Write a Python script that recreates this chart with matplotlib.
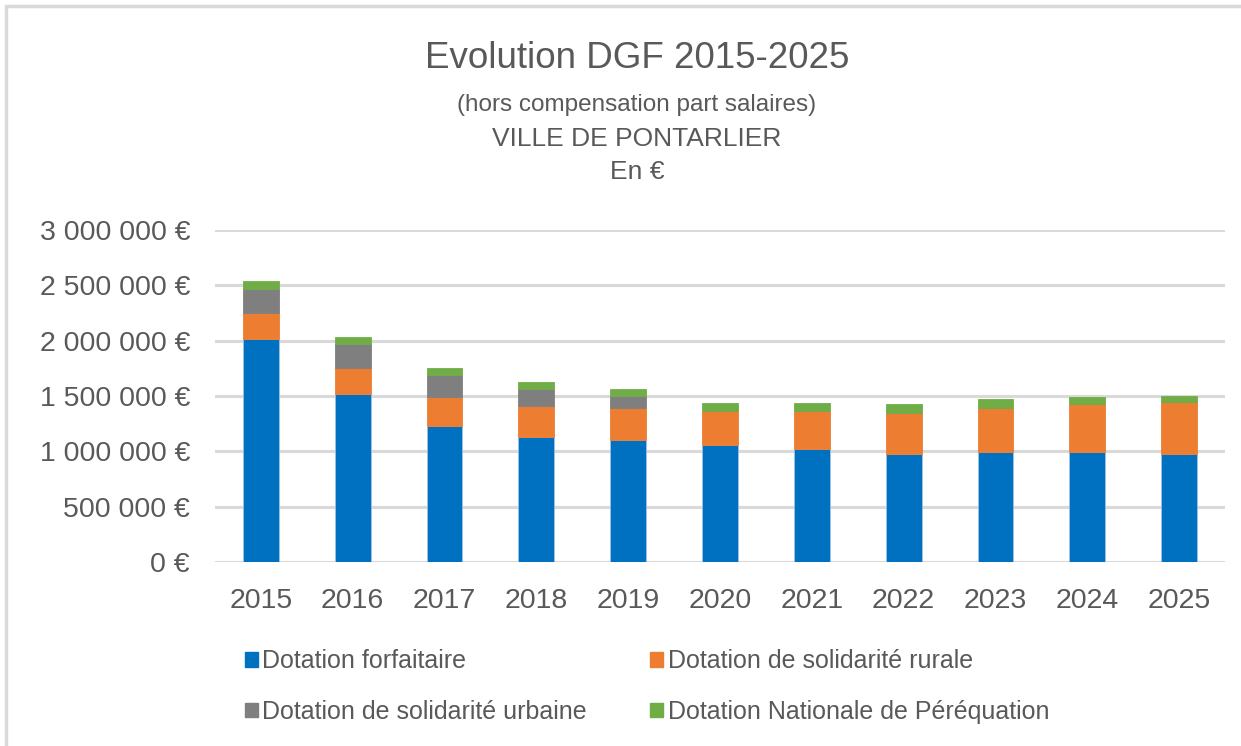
import numpy as np
import matplotlib
matplotlib.use("Agg")
import matplotlib.pyplot as plt
from matplotlib.patches import Rectangle, Patch
from matplotlib.ticker import FuncFormatter

plt.rcParams['font.family'] = ['Liberation Sans', 'DejaVu Sans']

# values (euros)
annees = ['2015', '2016', '2017', '2018', '2019', '2020', '2021', '2022', '2023', '2024', '2025']
forfaitaire = [2013000, 1519000, 1227000, 1133000, 1103000, 1055000, 1024000, 976000, 992000, 992000, 976000]
rurale = [236000, 232000, 262000, 277000, 292000, 310000, 341000, 374000, 403000, 434000, 468000]
urbaine = [217000, 220000, 199000, 154000, 109000, 0, 0, 0, 0, 0, 0]
perequation = [75000, 61000, 63000, 61000, 60000, 75000, 75000, 76000, 76000, 63000, 60000]

noms = ['Dotation forfaitaire', 'Dotation de solidarité rurale',
        'Dotation de solidarité urbaine', 'Dotation Nationale de Péréquation']
couleurs = ['#0070C0', '#ED7D31', '#7F7F7F', '#70AD47']
gris_txt = '#595959'

fig = plt.figure(figsize=(12.41, 7.46), dpi=100)
# cadre du graphique
fig.patches.append(Rectangle((6/1241, -0.1), 1.2, (740)/746 + 0.1, transform=fig.transFigure,
                             fill=False, edgecolor='#D9D9D9', linewidth=2.5))

ax = fig.add_axes([215/1241, 1-562/746, 1010/1241, 332/746])
x = np.arange(len(annees))
series = [forfaitaire, rurale, urbaine, perequation]
bas = np.zeros(len(annees))
for vals, c in zip(series, couleurs):
    ax.bar(x, vals, width=0.39, bottom=bas, color=c, edgecolor='#9DC3E6' if c == '#0070C0' else c,
           linewidth=0.6, zorder=3)
    bas += np.array(vals)

ax.set_xlim(-0.5, len(annees) - 0.5)
ax.set_ylim(0, 3000000)
ax.set_yticks(np.arange(0, 3000001, 500000))
ax.yaxis.set_major_formatter(FuncFormatter(lambda v, p: f"{int(v):,}".replace(',', ' ') + ' €'))
ax.set_xticks(x)
ax.set_xticklabels(annees)
ax.grid(axis='y', color='#D9D9D9', linewidth=2.2, zorder=0)
for s in ax.spines.values():
    s.set_visible(False)
ax.tick_params(length=0, labelsize=20.5, colors=gris_txt, pad=19)
ax.tick_params(axis='y', pad=18)

fig.text(637/1241, 1-59/746, 'Evolution DGF 2015-2025', ha='center', va='center',
         fontsize=26.5, color=gris_txt)
fig.text(637/1241, 1-105/746, '(hors compensation part salaires)', ha='center', va='center',
         fontsize=17.5, color=gris_txt)
fig.text(637/1241, 1-139/746, 'VILLE DE PONTARLIER', ha='center', va='center',
         fontsize=19, color=gris_txt)
fig.text(637/1241, 1-172/746, 'En €', ha='center', va='center',
         fontsize=19, color=gris_txt)

handles = [Patch(facecolor=c, edgecolor=c) for c in couleurs]
ordre = [0, 2, 1, 3]
leg = fig.legend([handles[i] for i in ordre], [noms[i] for i in ordre], ncol=2,
                 loc='upper left', bbox_to_anchor=(222/1241, 1-627/746), frameon=False,
                 fontsize=18, handlelength=0.52, handleheight=0.52, handletextpad=0.2,
                 columnspacing=2.5, labelspacing=1.05, labelcolor=gris_txt)

fig.savefig('out.png', dpi=100, facecolor='white')
